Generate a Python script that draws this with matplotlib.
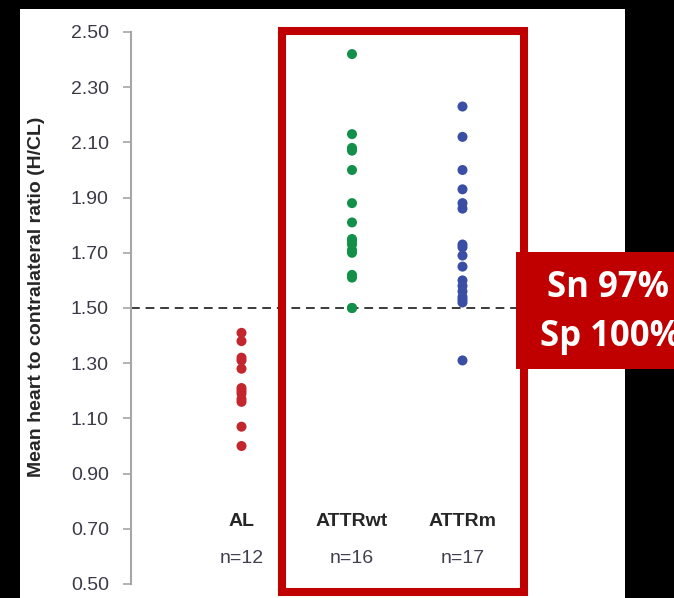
import numpy as np
import matplotlib
matplotlib.use("Agg")
import matplotlib.pyplot as plt
from matplotlib.patches import Rectangle

# values
groups = ["AL", "ATTRwt", "ATTRm"]
counts = ["n=12", "n=16", "n=17"]
al_vals = [1.41, 1.38, 1.32, 1.31, 1.28, 1.21, 1.20, 1.19, 1.17, 1.16, 1.07, 1.00]
wt_vals = [2.42, 2.13, 2.08, 2.07, 2.00, 1.88, 1.81, 1.75, 1.74, 1.73, 1.71, 1.70,
           1.62, 1.61, 1.50, 1.50]
m_vals = [2.23, 2.12, 2.00, 1.93, 1.88, 1.86, 1.73, 1.72, 1.69, 1.65, 1.60, 1.58,
          1.56, 1.54, 1.53, 1.52, 1.31]
yticks = [0.50, 0.70, 0.90, 1.10, 1.30, 1.50, 1.70, 1.90, 2.10, 2.30, 2.50]
cutoff = 1.50
colors = ["#c4262e", "#12904a", "#3a4ea6"]

W, H = 674, 598
fig = plt.figure(figsize=(W / 100, H / 100), dpi=100, facecolor="black")

def fx(px):
    return px / W

def fy(py):
    return 1 - py / H

# white panel
fig.add_artist(Rectangle((fx(20), 0), fx(625) - fx(20), fy(9), transform=fig.transFigure,
                         facecolor="white", edgecolor="none", zorder=0))

ax = fig.add_axes([fx(131), fy(584), (573 - 131) / W, (584 - 32) / H])
ax.set_facecolor("none")

for i, vals in enumerate([al_vals, wt_vals, m_vals]):
    ax.scatter(np.full(len(vals), i + 1), vals, s=52, color=colors[i],
               edgecolors="none", zorder=3)

ax.axhline(cutoff, xmin=0, xmax=1, color="#3a3a3a", lw=1.4, ls=(0, (4.5, 3)), zorder=2)

ax.set_xlim(0, 4)
ax.set_ylim(0.5, 2.5)
ax.set_yticks(yticks)
ax.set_yticklabels(["%.2f" % t for t in yticks], family="Liberation Sans",
                   fontsize=14, color="#3a3a48")
ax.tick_params(axis="y", length=6, width=1.2, color="#a6a6a6", pad=10)
ax.set_xticks([])
for s in ["top", "right", "bottom"]:
    ax.spines[s].set_visible(False)
ax.spines["left"].set_color("#a6a6a6")
ax.spines["left"].set_linewidth(1.5)

for i, (g, n) in enumerate(zip(groups, counts)):
    ax.text(i + 1, 0.725, g, ha="center", va="center", fontsize=14,
            fontweight="bold", family="Liberation Sans", color="#262626")
    ax.text(i + 1, 0.594, n, ha="center", va="center", fontsize=14,
            family="Liberation Sans", color="#404050")

fig.text(fx(37), fy(297), "Mean heart to contralateral ratio (H/CL)", rotation=90,
         ha="center", va="center", fontsize=14, fontweight="bold",
         family="Liberation Sans", color="#262626")

# red highlight box around ATTR groups
fig.add_artist(Rectangle((fx(282), fy(592)), fx(524) - fx(282), fy(31) - fy(592),
                         transform=fig.transFigure, facecolor="none",
                         edgecolor="#c00000", lw=5.8, zorder=5))

# Sn/Sp label box
fig.add_artist(Rectangle((fx(516), fy(369)), fx(680) - fx(516), fy(252) - fy(369),
                         transform=fig.transFigure, facecolor="#c00000",
                         edgecolor="none", zorder=6))
fig.text(fx(608), fy(288), "Sn 97%", ha="center", va="center", fontsize=25,
         fontweight="bold", family="Open Sans", color="white", zorder=7)
fig.text(fx(610), fy(337), "Sp 100%", ha="center", va="center", fontsize=25,
         fontweight="bold", family="Open Sans", color="white", zorder=7)

fig.savefig("out.png", dpi=100, facecolor="black")
